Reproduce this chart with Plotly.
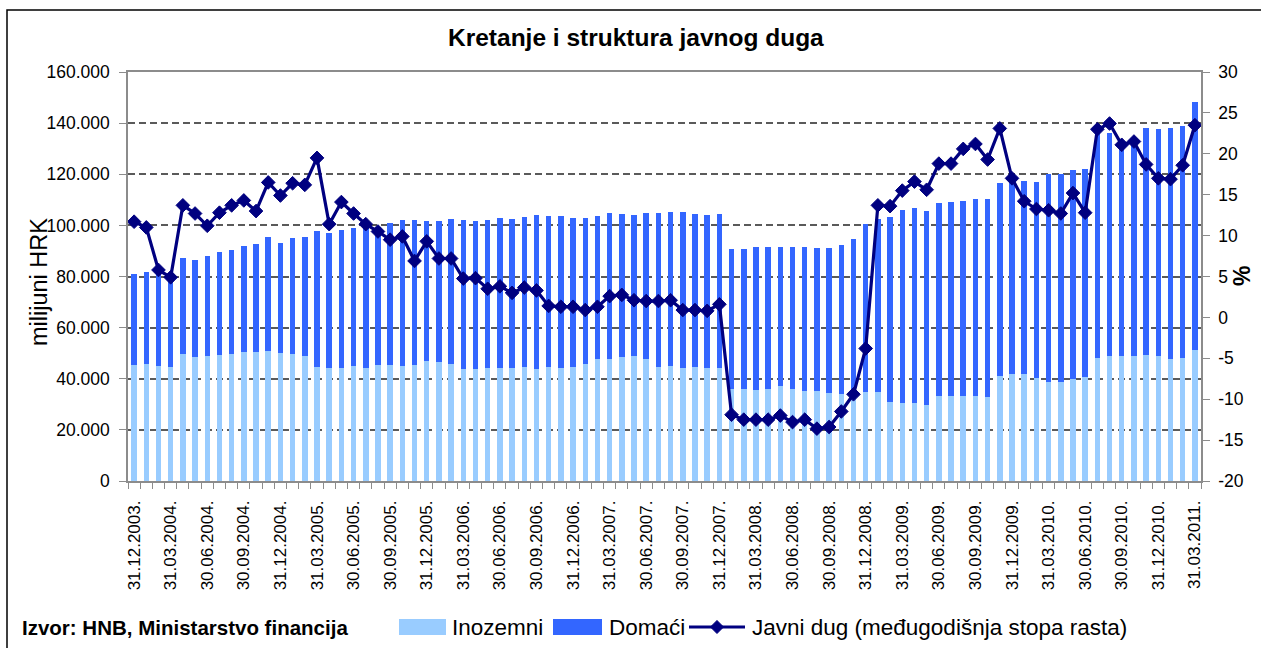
import plotly.graph_objects as go
import pandas as pd

# ---------------- data ----------------
datumi = [d.strftime("%d.%m.%Y.") for d in
          pd.date_range("2003-12-31", periods=88, freq=pd.offsets.MonthEnd())]

inozemni = [45500, 45750, 45100, 44600, 49700, 48500, 49000, 49300, 49700, 50500,
            50500, 50800, 50100, 49700, 48900, 44600, 44200, 44200, 45000, 44200,
            45500, 45500, 45100, 45500, 46900, 46500, 45750, 43800, 43800, 44200,
            44200, 44200, 44600, 43800, 44600, 44200, 44600, 45750, 47700, 47700,
            48500, 48900, 47700, 44600, 45000, 44200, 44600, 44200, 44200, 35900,
            35900, 35600, 35900, 37100, 35900, 35200, 35200, 34400, 34200, 34200,
            34800, 34800, 31000, 30600, 30600, 29800, 33100, 33100, 33100, 33100,
            32700, 41200, 41900, 41900, 40300, 38700, 38700, 39900, 40700, 48100,
            48900, 48900, 48900, 49300, 48900, 47700, 48100, 51300]

domaci = [35500, 36150, 36900, 36900, 37500, 38000, 39000, 40300, 40700, 41500,
          42300, 44700, 43000, 45400, 46600, 53200, 52800, 54000, 54000, 55600,
          54000, 55400, 57100, 56700, 54900, 55300, 56850, 58400, 58000, 58000,
          58800, 58400, 58800, 60400, 59200, 59600, 58400, 57250, 56100, 57100,
          56100, 55300, 57100, 60200, 60200, 61000, 60000, 60000, 60400, 54900,
          54900, 56000, 55700, 54500, 55700, 56400, 56000, 56800, 58200, 60500,
          65700, 67700, 72300, 75600, 76200, 75800, 75700, 76100, 76500, 77200,
          77600, 75400, 76100, 75600, 76500, 81300, 81300, 81900, 81500, 88400,
          87100, 82600, 83800, 88900, 88900, 90500, 90900, 97000]

stopa = [11.7, 11.0, 5.8, 4.9, 13.7, 12.7, 11.2, 12.8, 13.7, 14.3,
         13.0, 16.5, 14.9, 16.4, 16.2, 19.5, 11.4, 14.1, 12.7, 11.4,
         10.5, 9.5, 9.9, 6.9, 9.3, 7.2, 7.2, 4.75, 4.8, 3.5,
         3.8, 3.0, 3.65, 3.3, 1.4, 1.3, 1.3, 0.9, 1.3, 2.6,
         2.75, 2.1, 2.0, 2.0, 2.1, 0.9, 0.9, 0.8, 1.6, -11.9,
         -12.5, -12.5, -12.5, -12.0, -12.8, -12.5, -13.6, -13.4, -11.5, -9.4,
         -3.8, 13.7, 13.6, 15.5, 16.6, 15.6, 18.8, 18.8, 20.6, 21.2,
         19.3, 23.1, 17.0, 14.2, 13.25, 13.1, 12.7, 15.2, 12.8, 23.0,
         23.7, 21.1, 21.5, 18.7, 17.0, 16.9, 18.6, 23.5]

lijeve_oznake = [0, 20000, 40000, 60000, 80000, 100000, 120000, 140000, 160000]
desne_oznake = [-20, -15, -10, -5, 0, 5, 10, 15, 20, 25, 30]

naslov = "Kretanje i struktura javnog duga"
izvor = "Izvor: HNB, Ministarstvo financija"
ime_ino = "Inozemni"
ime_dom = "Domaći"
ime_stopa = "Javni dug (međugodišnja stopa rasta)"

# ---------------- styling / layout helpers ----------------
W, H = 1261, 648
L, R, T, B = 128, 1201, 72, 481
FONT = "Liberation Sans, Arial, sans-serif"
C_INO = "#99CCFF"
C_DOM = "#3366FF"
C_LINE = "#000080"
AX = "#8c8c8c"


def px(xp):
    return (xp - L) / (R - L)


def py(yp):
    return (B - yp) / (B - T)


idx = list(range(len(datumi)))

fig = go.Figure()
fig.add_bar(x=idx, y=inozemni, name=ime_ino, marker=dict(color=C_INO, line=dict(width=0)))
fig.add_bar(x=idx, y=domaci, name=ime_dom, marker=dict(color=C_DOM, line=dict(width=0)))
fig.add_scatter(x=idx, y=stopa, name=ime_stopa, yaxis="y2", mode="lines+markers",
                line=dict(color=C_LINE, width=3.2),
                marker=dict(symbol="diamond", size=10.5, color=C_LINE,
                            line=dict(color=C_LINE, width=1)))

fig.update_layout(
    width=W, height=H,
    margin=dict(l=L, r=W - R, t=T, b=H - B, pad=0),
    paper_bgcolor="white", plot_bgcolor="white",
    barmode="stack", bargap=0.55,
    showlegend=False,
    separators=",.",
    font=dict(family=FONT, size=17, color="black"),
    xaxis=dict(
        range=[-0.5, len(idx) - 0.5],
        tickvals=idx[::3], ticktext=datumi[::3],
        tickangle=-90, tickfont=dict(size=17, family=FONT, color="black"),
        ticks="", ticklabelstandoff=11,
        showline=True, linecolor=AX, linewidth=1.5, mirror=True,
        showgrid=False, zeroline=False,
        minor=dict(tick0=-0.5, dtick=1, ticks="outside", ticklen=6,
                   tickcolor=AX, tickwidth=1, showgrid=False),
    ),
    yaxis=dict(
        range=[0, 160000], tickvals=lijeve_oznake, tickformat=",d",
        tickfont=dict(size=17.5, family=FONT, color="black"),
        ticks="outside", ticklen=7, tickcolor=AX, tickwidth=1,
        ticklabelstandoff=6,
        showline=True, linecolor=AX, linewidth=1.5,
        showgrid=True, gridcolor="#5a5a5a", gridwidth=1.5, griddash="7px,4px",
        zeroline=False,
    ),
    yaxis2=dict(
        overlaying="y", side="right", range=[-20, 30],
        tickvals=desne_oznake, ticktext=[str(v) for v in desne_oznake],
        tickfont=dict(size=17.5, family=FONT, color="black"),
        ticks="outside", ticklen=7, tickcolor=AX, tickwidth=1,
        ticklabelstandoff=5,
        showline=True, linecolor=AX, linewidth=1.5,
        showgrid=False, zeroline=False,
    ),
)

ann = []
# title
ann.append(dict(text="<b>%s</b>" % naslov, x=px(636), y=py(38), xref="paper", yref="paper",
                xanchor="center", yanchor="middle", showarrow=False,
                font=dict(size=24.5, family=FONT, color="black")))
# axis titles
ann.append(dict(text="milijuni HRK", x=px(39), y=py(282), xref="paper", yref="paper",
                xanchor="center", yanchor="middle", textangle=-90, showarrow=False,
                font=dict(size=23.5, family=FONT, color="black")))
ann.append(dict(text="<b>%</b>", x=px(1242), y=py(276), xref="paper", yref="paper",
                xanchor="center", yanchor="middle", textangle=-90, showarrow=False,
                font=dict(size=23, family=FONT, color="black")))
# source
ann.append(dict(text="<b>%s</b>" % izvor, x=px(20), y=py(627), xref="paper", yref="paper",
                xanchor="left", yanchor="middle", showarrow=False,
                font=dict(size=20.5, family=FONT, color="black")))
# legend texts
for txt, xp in [(ime_ino, 450), (ime_dom, 607), (ime_stopa, 750)]:
    ann.append(dict(text=txt, x=px(xp), y=py(627), xref="paper", yref="paper",
                    xanchor="left", yanchor="middle", showarrow=False,
                    font=dict(size=22.5, family=FONT, color="black")))

shapes = []
# outer frame
shapes.append(dict(type="rect", xref="paper", yref="paper",
                   x0=px(7), y0=py(10), x1=px(1280), y1=py(670),
                   line=dict(color="black", width=1.5), fillcolor="rgba(0,0,0,0)"))
# legend swatches
shapes.append(dict(type="rect", xref="paper", yref="paper",
                   x0=px(399), x1=px(446), y0=py(619), y1=py(635),
                   line=dict(width=0), fillcolor=C_INO))
shapes.append(dict(type="rect", xref="paper", yref="paper",
                   x0=px(553), x1=px(602), y0=py(619), y1=py(635),
                   line=dict(width=0), fillcolor=C_DOM))
shapes.append(dict(type="line", xref="paper", yref="paper",
                   x0=px(689), x1=px(745), y0=py(627), y1=py(627),
                   line=dict(color=C_LINE, width=3.2)))
cx, cy, hw, hh = 717, 627, 6.5, 6.5
shapes.append(dict(type="path", xref="paper", yref="paper",
                   path="M %f %f L %f %f L %f %f L %f %f Z" % (
                       px(cx - hw), py(cy), px(cx), py(cy - hh),
                       px(cx + hw), py(cy), px(cx), py(cy + hh)),
                   line=dict(color=C_LINE, width=1), fillcolor=C_LINE))

fig.update_layout(annotations=ann, shapes=shapes)
fig.write_html("out.html",
               config={"displayModeBar": False},
               post_script="document.body.style.margin='0px';"
                           "document.body.style.overflow='hidden';")
